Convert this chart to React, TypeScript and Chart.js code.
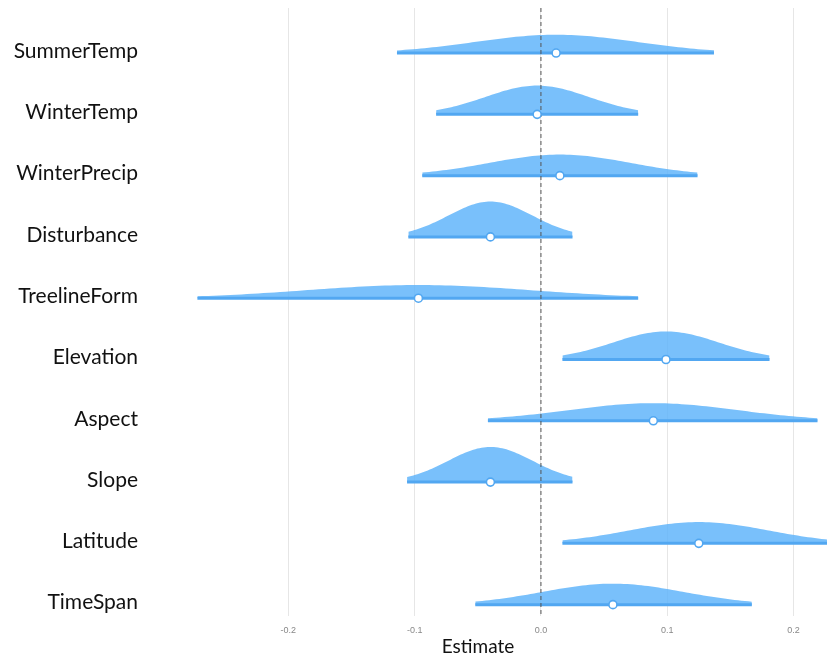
import React, { useEffect, useRef } from "react";
import { Chart, registerables } from "chart.js";

Chart.register(...registerables);

const labels = ["SummerTemp", "WinterTemp", "WinterPrecip", "Disturbance", "TreelineForm", "Elevation", "Aspect", "Slope", "Latitude", "TimeSpan"];
const estimates = [0.012, -0.003, 0.015, -0.040, -0.097, 0.099, 0.089, -0.040, 0.125, 0.057];
const lower = [-0.114, -0.083, -0.094, -0.105, -0.272, 0.017, -0.042, -0.106, 0.017, -0.052];
const upper = [0.137, 0.077, 0.124, 0.025, 0.077, 0.181, 0.219, 0.025, 0.233, 0.167];
const xTicks = [-0.2, -0.1, 0.0, 0.1, 0.2];

const FILL = "rgba(92,178,250,0.82)";
const LINE = "#52a7f1";
const DENSITY_SCALE = 0.048;
const Y_MIN = -0.735;
const Y_MAX = 9.185;

function densityPoints(i: number) {
  const sd = (upper[i] - lower[i]) / (2 * 1.96);
  const pts: { x: number; y: number }[] = [];
  const n = 80;
  for (let k = 0; k <= n; k++) {
    const x = lower[i] + ((upper[i] - lower[i]) * k) / n;
    const z = (x - estimates[i]) / sd;
    const pdf = Math.exp(-0.5 * z * z) / (sd * Math.sqrt(2 * Math.PI));
    pts.push({ x, y: i - DENSITY_SCALE * pdf });
  }
  return pts;
}

const titlePlugin = {
  id: "xTitle",
  afterDraw(chart: any) {
    const { ctx, chartArea } = chart;
    ctx.save();
    ctx.font = "19px Lato";
    ctx.fillStyle = "#111";
    ctx.textAlign = "center";
    ctx.textBaseline = "middle";
    ctx.fillText("Estimate", chartArea.left + 284, chartArea.bottom + 31);
    ctx.restore();
  },
};

export default function App() {
  const ref = useRef<HTMLCanvasElement>(null);
  useEffect(() => {
    if (!ref.current) return;
    const datasets: any[] = [];
    labels.forEach((_, i) => {
      datasets.push({
        type: "line",
        data: densityPoints(i),
        borderWidth: 0,
        borderColor: "rgba(0,0,0,0)",
        backgroundColor: FILL,
        pointRadius: 0,
        fill: { value: i },
        tension: 0,
        order: 3,
      });
      datasets.push({
        type: "line",
        data: [
          { x: lower[i], y: i },
          { x: upper[i], y: i },
        ],
        borderWidth: 3,
        borderColor: LINE,
        pointRadius: 0,
        fill: false,
        order: 2,
      });
    });
    datasets.push({
      type: "line",
      data: [
        { x: 0, y: Y_MIN },
        { x: 0, y: Y_MAX },
      ],
      borderWidth: 1,
      borderColor: "#555",
      borderDash: [4, 3],
      pointRadius: 0,
      fill: false,
      order: 1,
    });
    datasets.push({
      type: "scatter",
      data: estimates.map((e, i) => ({ x: e, y: i })),
      pointRadius: 4,
      pointBorderWidth: 1.6,
      pointBackgroundColor: "#fff",
      pointBorderColor: LINE,
      order: 0,
    });

    const chart = new Chart(ref.current, {
      type: "line",
      data: { datasets },
      plugins: [titlePlugin],
      options: {
        animation: false,
        responsive: false,
        maintainAspectRatio: false,
        devicePixelRatio: 1,
        layout: { padding: 0, autoPadding: false },
        plugins: { legend: { display: false }, tooltip: { enabled: false } },
        scales: {
          x: {
            type: "linear",
            min: -0.2747,
            max: 0.2265,
            afterBuildTicks: (s: any) => {
              s.ticks = xTicks.map((v) => ({ value: v }));
            },
            afterFit: (s: any) => {
              s.height = 43;
              s.paddingLeft = 0;
              s.paddingRight = 0;
            },
            grid: { color: "#e6e6e6", lineWidth: 1, drawTicks: false },
            border: { display: false },
            ticks: {
              padding: 9,
              color: "#888",
              font: { family: "Liberation Sans", size: 9 },
              callback: (v: any) => Number(v).toFixed(1),
            },
          },
          y: {
            type: "linear",
            reverse: true,
            min: Y_MIN,
            max: Y_MAX,
            afterBuildTicks: (s: any) => {
              s.ticks = labels.map((_, i) => ({ value: i }));
            },
            afterFit: (s: any) => {
              s.width = 186;
              s.paddingTop = 0;
              s.paddingBottom = 0;
            },
            grid: { display: false, drawTicks: false },
            border: { display: false },
            ticks: {
              padding: 56,
              labelOffset: -2,
              color: "#111",
              font: { family: "Lato", size: 21 },
              callback: (v: any) => labels[Math.round(Number(v))],
            },
          },
        },
      },
    });
    return () => chart.destroy();
  }, []);
  return (
    <div style={{ position: "absolute", left: 8, top: 8, width: 819, height: 651, overflow: "hidden" }}>
      <canvas ref={ref} width={819} height={651} style={{ width: 819, height: 651, display: "block" }} />
    </div>
  );
}
